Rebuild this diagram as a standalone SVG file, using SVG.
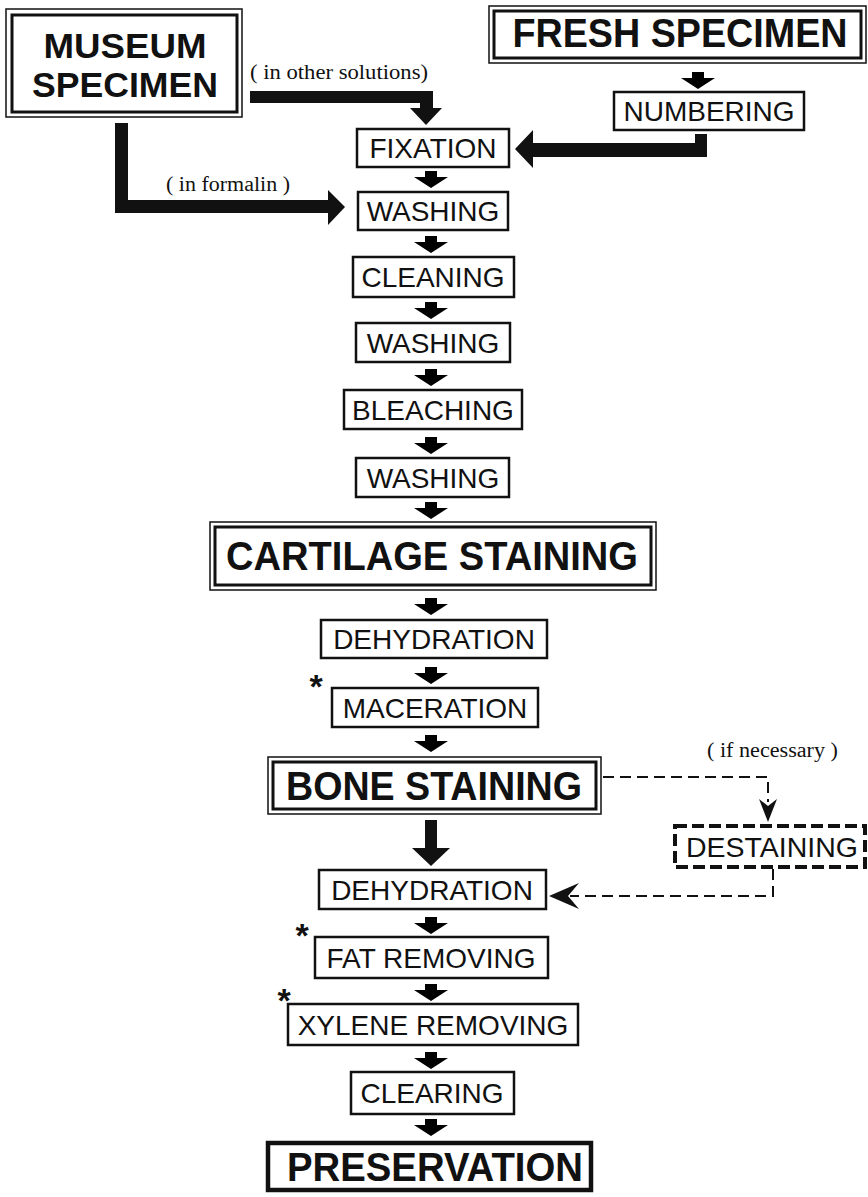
<svg xmlns="http://www.w3.org/2000/svg" width="868" height="1197" viewBox="0 0 868 1197">
<style>
.bg{fill:#fff}
.box{fill:#fff;stroke:#111;stroke-width:2.5}
.thin{fill:#fff;stroke:#111;stroke-width:1.5}
.thick{fill:none;stroke:#111;stroke-width:3}
.heavy{fill:#fff;stroke:#111;stroke-width:4.5}
.dbox{fill:#fff;stroke:#111;stroke-width:4;stroke-dasharray:12 5}
.t{font-family:"Liberation Sans",Arial,Helvetica,sans-serif;font-size:28px;fill:#111;text-anchor:middle}
.b{font-family:"Liberation Sans",Arial,Helvetica,sans-serif;font-weight:bold;font-size:40px;fill:#111;text-anchor:middle}
.bm{font-family:"Liberation Sans",Arial,Helvetica,sans-serif;font-weight:bold;font-size:35px;fill:#111;text-anchor:middle}
.s{font-family:"Liberation Serif","Times New Roman",serif;font-size:20px;fill:#111}
.ast{font-family:"Liberation Sans",Arial,sans-serif;font-weight:bold;font-size:34px;fill:#111;text-anchor:middle}
.ar{fill:#111}
.dash{fill:none;stroke:#111;stroke-width:2;stroke-dasharray:11 6}
</style>
<defs>
<path id="sa" d="M-6,0 h12 v6 h11 l-17,11 l-17,-11 h11 z"/>
</defs>
<rect class="bg" x="0" y="0" width="868" height="1197"/>

<g id="connectors">
  <path class="ar" d="M250,91 H433 V108 H442 L426,125 L410,108 H420 V103 H250 Z"/>
  <path class="ar" d="M115,123 H128 V200 H328 V190 L345,207 L328,225 V213 H115 Z"/>
  <path class="ar" d="M695,134 H707 V157 H533 V168 L515,149 L533,130 V143 H695 Z"/>
  <use href="#sa" x="698" y="72"/>
  <use href="#sa" x="431" y="171"/>
  <use href="#sa" x="431" y="236"/>
  <use href="#sa" x="431" y="302"/>
  <use href="#sa" x="431" y="369"/>
  <use href="#sa" x="431" y="437"/>
  <use href="#sa" x="431" y="502"/>
  <use href="#sa" x="431" y="598"/>
  <use href="#sa" x="431" y="667"/>
  <use href="#sa" x="431" y="735"/>
  <path class="ar" d="M425,820 H437 V848 H450 L431,866 L412,848 H425 Z"/>
  <use href="#sa" x="431" y="917"/>
  <use href="#sa" x="431" y="984"/>
  <use href="#sa" x="431" y="1052"/>
  <use href="#sa" x="431" y="1119"/>
  <path class="dash" d="M603,777 H768 V802"/>
  <path class="ar" d="M768,822 L759,799 L768,806 L777,799 Z"/>
  <path class="dash" d="M773,869 V896 H570"/>
  <path class="ar" d="M549,896 L579,883 L568,896 L579,909 Z"/>
</g>

<g id="museum">
  <rect class="thin" x="6" y="9" width="236" height="108"/>
  <rect class="thick" x="12" y="15" width="225" height="97"/>
  <text class="bm" x="125" y="58" textLength="163" lengthAdjust="spacingAndGlyphs">MUSEUM</text>
  <text class="bm" x="125" y="97" textLength="186" lengthAdjust="spacingAndGlyphs">SPECIMEN</text>
</g>
<text class="s" x="250" y="79" textLength="178" lengthAdjust="spacingAndGlyphs">( in other solutions)</text>
<text class="s" x="166" y="191" textLength="124" lengthAdjust="spacingAndGlyphs">( in formalin )</text>

<g id="fresh">
  <rect class="thin" x="489" y="6" width="377" height="57"/>
  <rect class="thick" x="494" y="11" width="367" height="47"/>
  <text class="b" x="680" y="47" textLength="335" lengthAdjust="spacingAndGlyphs">FRESH SPECIMEN</text>
</g>
<g id="numbering">
  <rect class="box" x="614" y="92" width="190" height="38"/>
  <text class="t" x="709" y="121">NUMBERING</text>
</g>
<g id="fixation">
  <rect class="box" x="357" y="129" width="152" height="38"/>
  <text class="t" x="433" y="158">FIXATION</text>
</g>
<g id="washing1">
  <rect class="box" x="358" y="192" width="150" height="38"/>
  <text class="t" x="433" y="221">WASHING</text>
</g>
<g id="cleaning">
  <rect class="box" x="353" y="257" width="161" height="40"/>
  <text class="t" x="433" y="287">CLEANING</text>
</g>
<g id="washing2">
  <rect class="box" x="356" y="323" width="154" height="39"/>
  <text class="t" x="433" y="353">WASHING</text>
</g>
<g id="bleaching">
  <rect class="box" x="344" y="390" width="178" height="39"/>
  <text class="t" x="433" y="420">BLEACHING</text>
</g>
<g id="washing3">
  <rect class="box" x="356" y="458" width="153" height="39"/>
  <text class="t" x="433" y="488">WASHING</text>
</g>
<g id="cartilage">
  <rect class="thin" x="210" y="522" width="446" height="68"/>
  <rect class="thick" x="215" y="527" width="436" height="58"/>
  <text class="b" x="432" y="570" textLength="412" lengthAdjust="spacingAndGlyphs">CARTILAGE STAINING</text>
</g>
<g id="dehydration1">
  <rect class="box" x="321" y="620" width="226" height="38"/>
  <text class="t" x="434" y="649">DEHYDRATION</text>
</g>
<text class="ast" x="316" y="698">*</text>
<g id="maceration">
  <rect class="box" x="332" y="688" width="206" height="39"/>
  <text class="t" x="435" y="718">MACERATION</text>
</g>
<g id="bone">
  <rect class="thin" x="268" y="757" width="333" height="57"/>
  <rect class="thick" x="273" y="762" width="323" height="47"/>
  <text class="b" x="434" y="800" textLength="296" lengthAdjust="spacingAndGlyphs">BONE STAINING</text>
</g>
<text class="s" x="707" y="757" textLength="131" lengthAdjust="spacingAndGlyphs">( if necessary )</text>
<g id="destaining">
  <rect class="dbox" x="675" y="826" width="190" height="41"/>
  <text class="t" x="772" y="857" textLength="172" lengthAdjust="spacingAndGlyphs">DESTAINING</text>
</g>
<g id="dehydration2">
  <rect class="box" x="319" y="870" width="227" height="39"/>
  <text class="t" x="432" y="900">DEHYDRATION</text>
</g>
<text class="ast" x="302" y="947">*</text>
<g id="fatremoving">
  <rect class="box" x="315" y="937" width="233" height="41"/>
  <text class="t" x="431" y="968">FAT REMOVING</text>
</g>
<text class="ast" x="284" y="1012">*</text>
<g id="xylene">
  <rect class="box" x="288" y="1004" width="290" height="41"/>
  <text class="t" x="433" y="1035">XYLENE REMOVING</text>
</g>
<g id="clearing">
  <rect class="box" x="351" y="1072" width="163" height="42"/>
  <text class="t" x="432" y="1103">CLEARING</text>
</g>
<g id="preservation">
  <rect class="heavy" x="268" y="1143" width="323" height="47"/>
  <text class="b" x="435" y="1181" textLength="296" lengthAdjust="spacingAndGlyphs">PRESERVATION</text>
</g>
</svg>
